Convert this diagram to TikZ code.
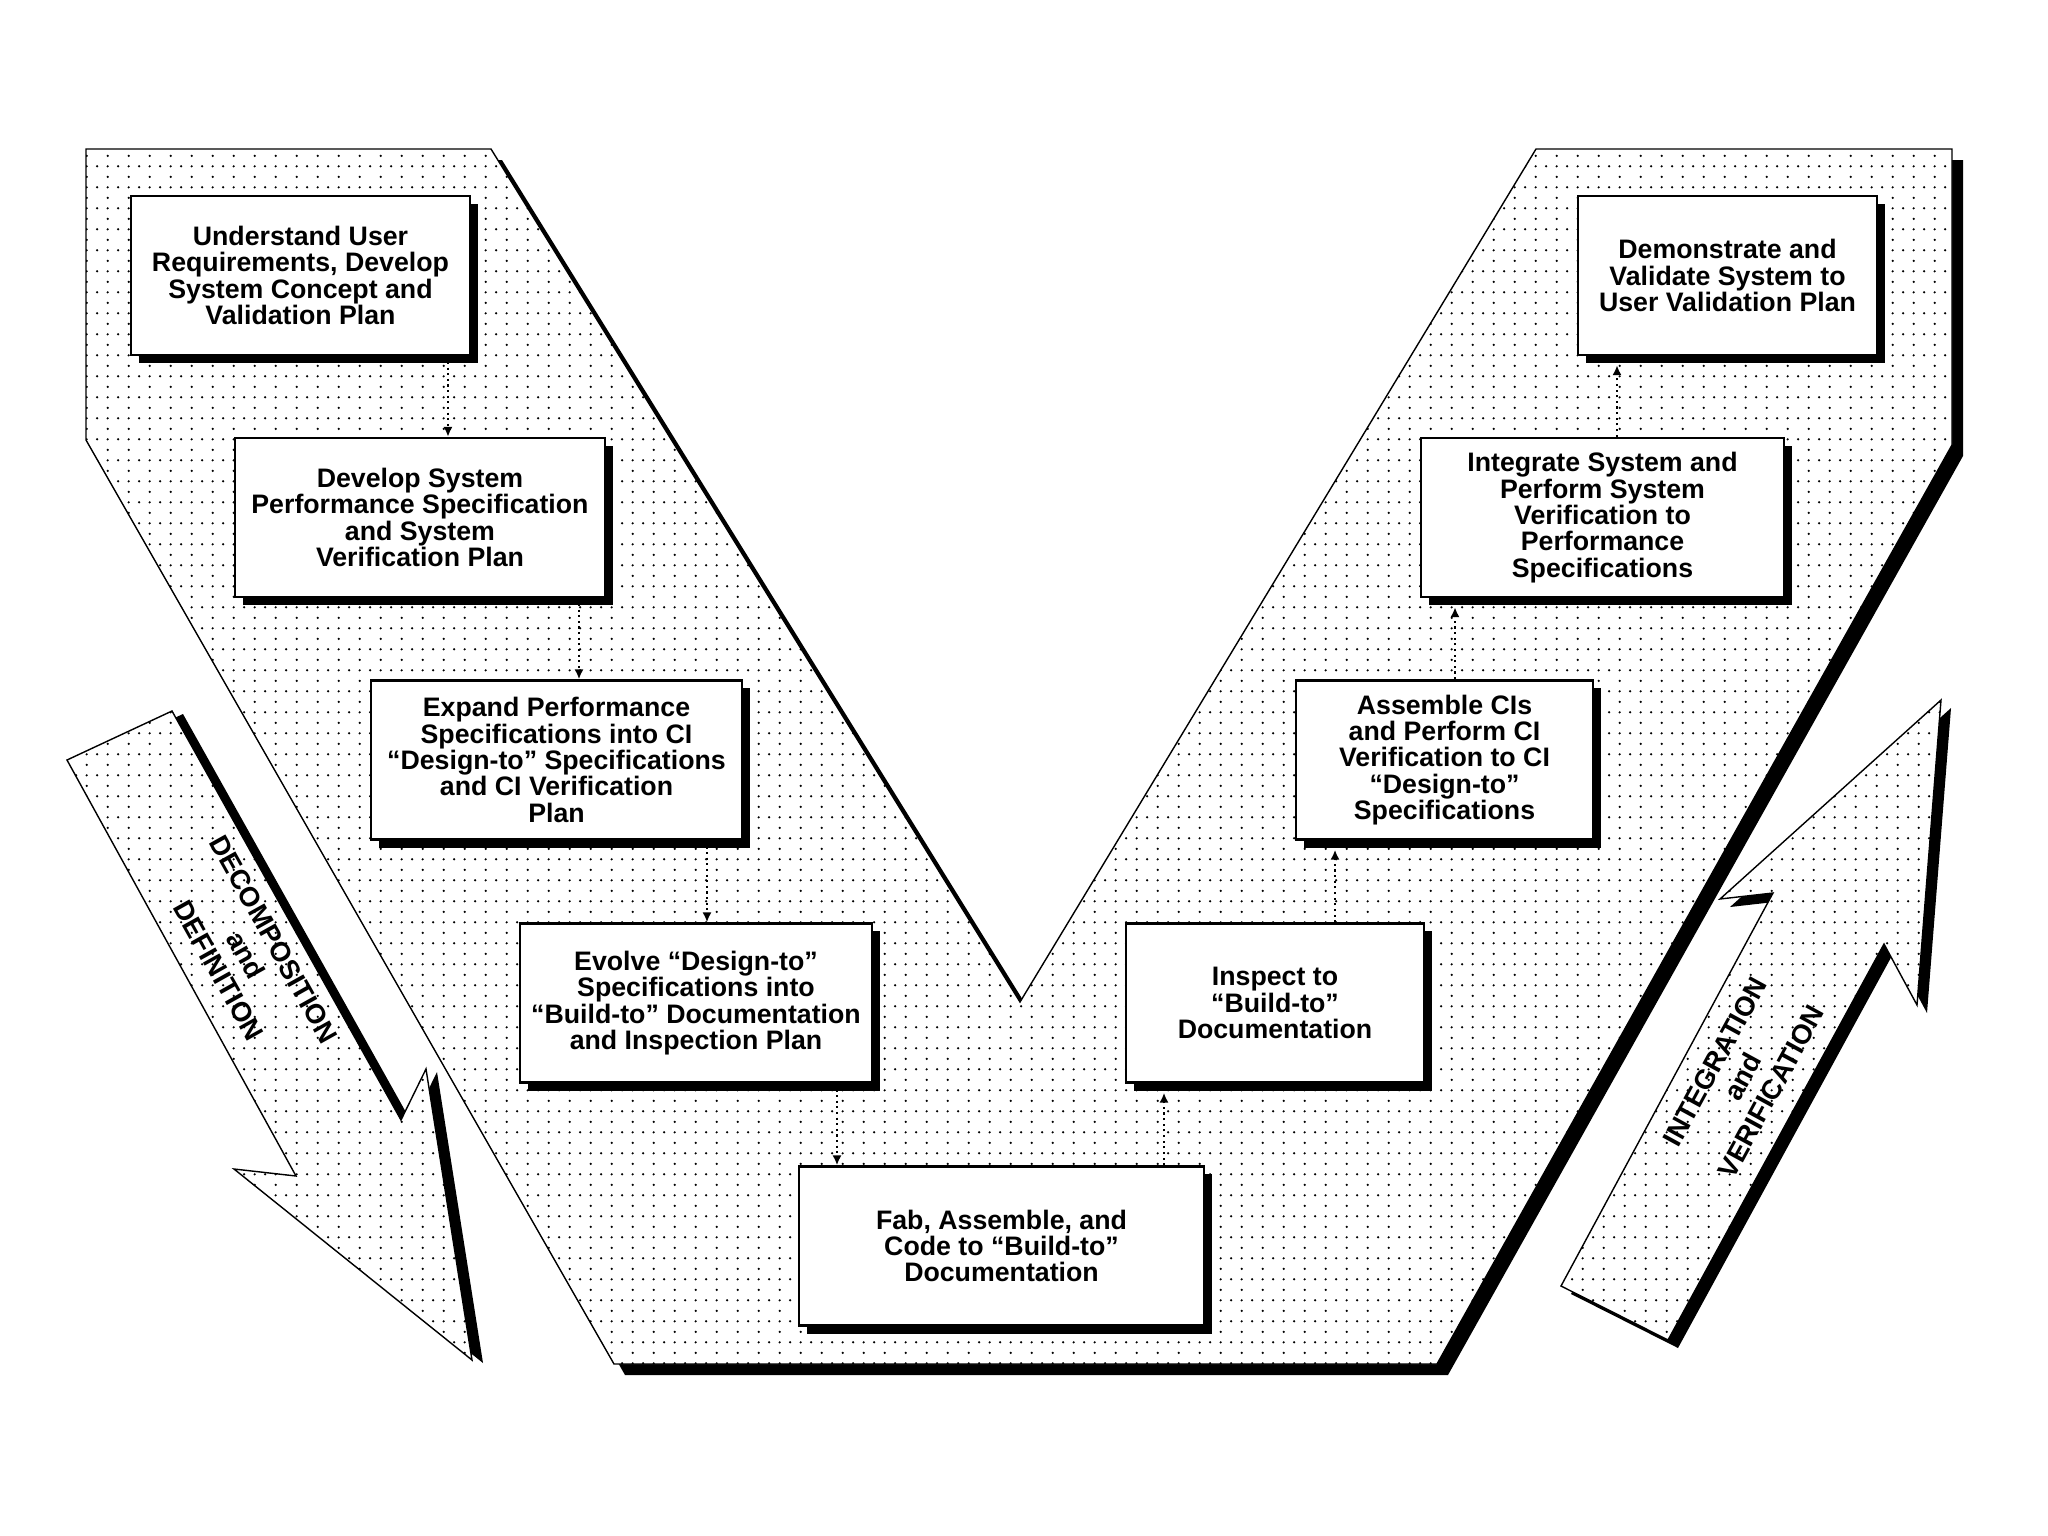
\documentclass[tikz,border=0pt]{standalone}
\usepackage{fontspec}
\setmainfont{Liberation Sans}
\usetikzlibrary{arrows.meta,patterns,shadows}
\pgfdeclarepatternformonly{vdots}{\pgfqpoint{0pt}{0pt}}{\pgfqpoint{6.08pt}{6.08pt}}{\pgfqpoint{6.08pt}{6.08pt}}{%
  \pgfpathcircle{\pgfqpoint{0.5pt}{0.5pt}}{0.36pt}%
  \pgfpathcircle{\pgfqpoint{3.54pt}{0.5pt}}{0.36pt}%
  \pgfpathcircle{\pgfqpoint{0.5pt}{3.54pt}}{0.36pt}%
  \pgfusepath{fill}}
\begin{document}
\begin{tikzpicture}[x=0.01cm,y=-0.01cm,
  stepbox/.style={draw=black, line width=0.7pt, fill=white, align=center, inner sep=0pt,
    minimum height=1.59cm, font=\bfseries\fontsize{7.6}{7.5}\selectfont,
    drop shadow={shadow xshift=0.08cm, shadow yshift=-0.08cm, opacity=1, fill=black}},
  conn/.style={densely dotted, line width=0.6pt, -{Latex[length=2.8pt,width=2.6pt]}},
  dotted area/.style={draw=black, line width=0.4pt, fill=white, postaction={pattern=vdots}},
  shade/.style={fill=black},
  arrowtext/.style={font=\bfseries\fontsize{7.8}{9}\selectfont, align=center, inner sep=0pt}
]
\useasboundingbox (0,0) rectangle (2048,1536);

% ---- V shape: shadow then dotted area
\fill[shade, shift={(11,11)}] (86,149) -- (491,149) -- (1020,1002) -- (1536,149) -- (1952,149)
  -- (1952,445) -- (1437,1364) -- (614,1364) -- (86,440) -- cycle;
\path[dotted area] (86,149) -- (491,149) -- (1020,1002) -- (1536,149) -- (1952,149)
  -- (1952,445) -- (1437,1364) -- (614,1364) -- (86,440) -- cycle;

% ---- left big arrow
\fill[shade, shift={(11,3)}] (67,760) -- (172,711) -- (401,1120) -- (426,1069) -- (472,1360)
  -- (234,1169) -- (296,1176) -- cycle;
\path[dotted area] (67,760) -- (172,711) -- (401,1120) -- (426,1069) -- (472,1360)
  -- (234,1169) -- (296,1176) -- cycle;
\node[arrowtext, rotate=-60.75] (dd) at (246,955) {DECOMPOSITION\\and\\DEFINITION};

% ---- right big arrow
\fill[shade, shift={(10,8)}] (1561,1286) -- (1668,1340) -- (1884,944) -- (1917,1005) -- (1941,700)
  -- (1720,899) -- (1773,893) -- cycle;
\path[dotted area] (1561,1286) -- (1668,1340) -- (1884,944) -- (1917,1005) -- (1941,700)
  -- (1720,899) -- (1773,893) -- cycle;
\node[arrowtext, rotate=61.4] (iv) at (1743,1077) {INTEGRATION\\and\\VERIFICATION};

% ---- boxes
\node[stepbox, minimum width=3.39cm] (b1) at (300.5,275.5)
  {Understand User\\Requirements, Develop\\System Concept and\\Validation Plan};
\node[stepbox, minimum width=3.70cm] (b2) at (420,517.5)
  {Develop System\\Performance Specification\\and System\\Verification Plan};
\node[stepbox, minimum width=3.71cm] (b3) at (556.5,760)
  {Expand Performance\\Specifications into CI\\“Design-to” Specifications\\and CI Verification\\Plan};
\node[stepbox, minimum width=3.52cm] (b4) at (696,1003)
  {Evolve “Design-to”\\Specifications into\\“Build-to” Documentation\\and Inspection Plan};
\node[stepbox, minimum width=4.05cm] (b5) at (1001.5,1246)
  {Fab, Assemble, and\\Code to “Build-to”\\Documentation};
\node[stepbox, minimum width=2.98cm] (b6) at (1275,1003)
  {Inspect to\\“Build-to”\\Documentation};
\node[stepbox, minimum width=2.97cm] (b7) at (1444.5,760)
  {Assemble CIs\\and Perform CI\\Verification to CI\\“Design-to”\\Specifications};
\node[stepbox, minimum width=3.63cm] (b8) at (1602.5,517.5)
  {Integrate System and\\Perform System\\Verification to\\Performance\\Specifications};
\node[stepbox, minimum width=2.99cm] (b9) at (1727.5,275.5)
  {Demonstrate and\\Validate System to\\User Validation Plan};

% ---- connectors
\coordinate (x12) at (448,0);
\coordinate (x23) at (579,0);
\coordinate (x34) at (707,0);
\coordinate (x45) at (837,0);
\coordinate (x56) at (1164,0);
\coordinate (x67) at (1335,0);
\coordinate (x78) at (1455,0);
\coordinate (x89) at (1617,0);
\draw[conn] (b1.south -| x12) -- (b2.north -| x12);
\draw[conn] (b2.south -| x23) -- (b3.north -| x23);
\draw[conn] (b3.south -| x34) -- (b4.north -| x34);
\draw[conn] (b4.south -| x45) -- (b5.north -| x45);
\draw[conn, shorten >=0.09cm] (b5.north -| x56) -- (b6.south -| x56);
\draw[conn, shorten >=0.09cm] (b6.north -| x67) -- (b7.south -| x67);
\draw[conn, shorten >=0.09cm] (b7.north -| x78) -- (b8.south -| x78);
\draw[conn, shorten >=0.09cm] (b8.north -| x89) -- (b9.south -| x89);
\end{tikzpicture}
\end{document}
